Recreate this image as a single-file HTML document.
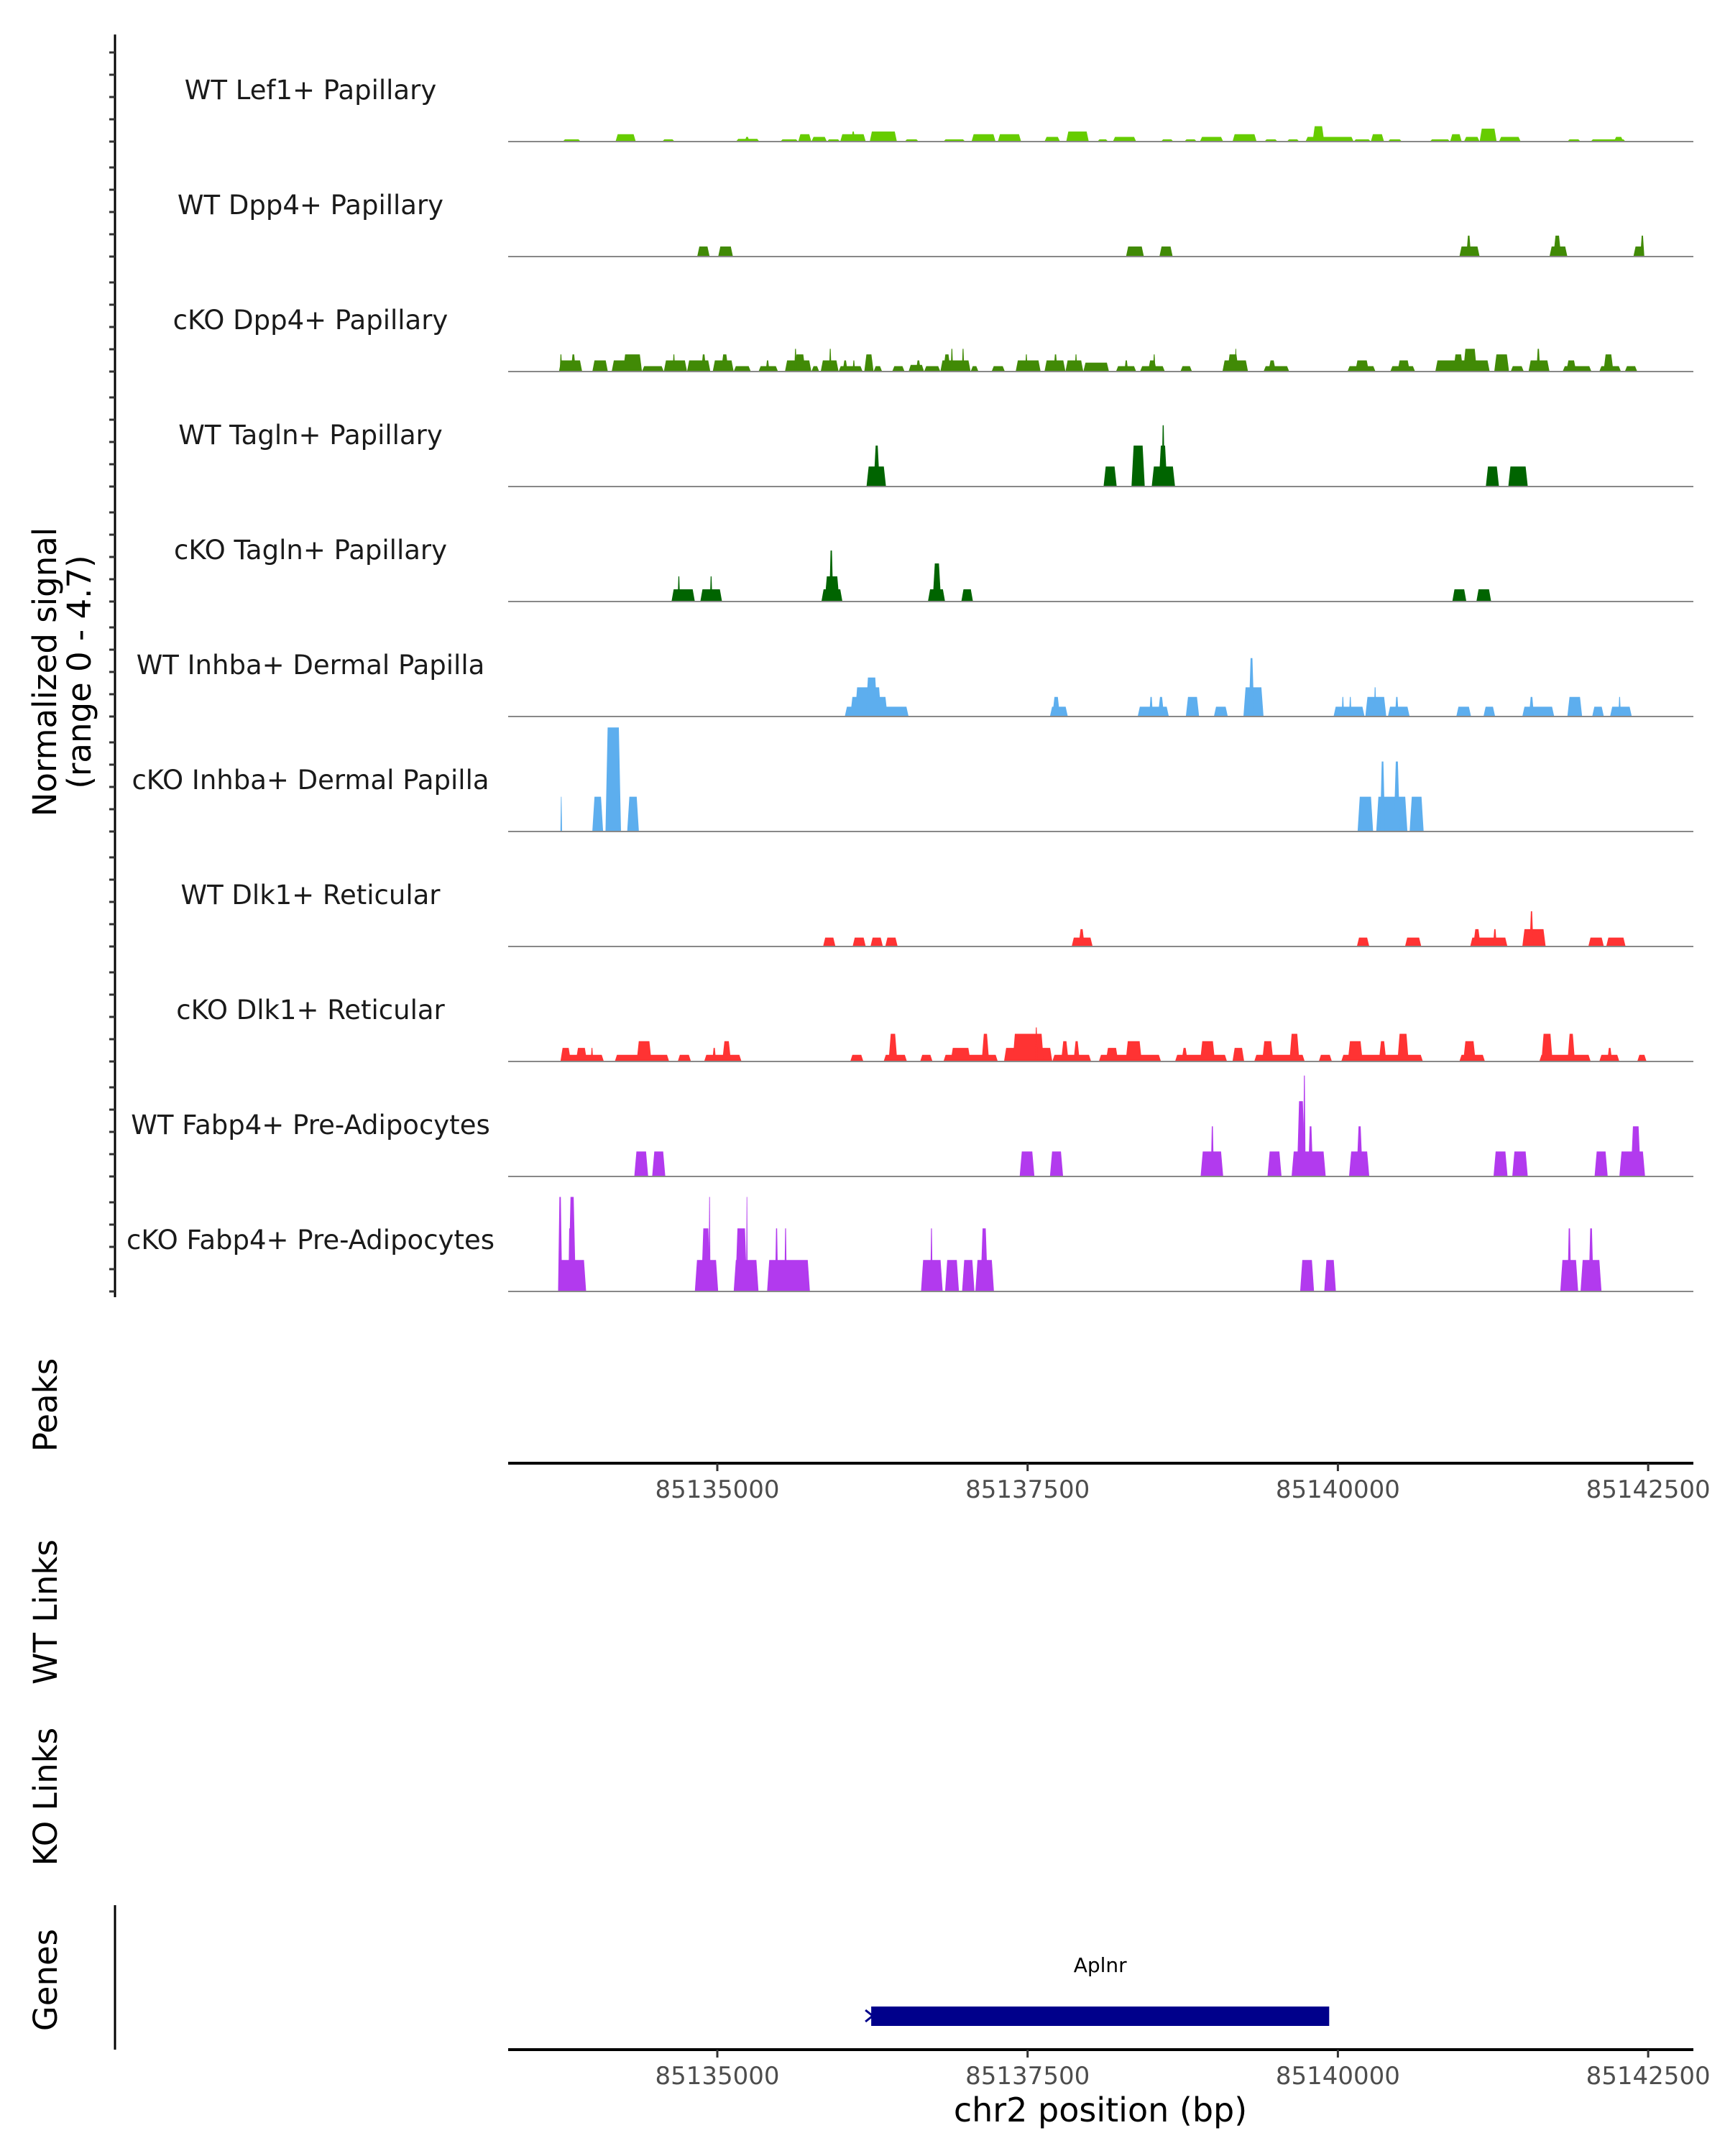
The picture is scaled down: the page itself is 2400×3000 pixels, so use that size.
<!DOCTYPE html>
<html><head><meta charset="utf-8">
<style>
html,body{margin:0;padding:0;background:#fff;}
svg{display:block;font-family:"DejaVu Sans","Liberation Sans",sans-serif;}
</style></head>
<body>
<svg id="chart" width="2400" height="3000" viewBox="0 0 2400 3000" xmlns="http://www.w3.org/2000/svg">
<rect width="2400" height="3000" fill="#fff"/>
<g id="tracks"></g>
<line x1="160" y1="48" x2="160" y2="1805" stroke="#000" stroke-width="3"/>
<g id="yticks"></g>
<text transform="translate(78,935) rotate(-90)" text-anchor="middle" font-size="45" fill="#000">Normalized signal</text>
<text transform="translate(126,935) rotate(-90)" text-anchor="middle" font-size="45" fill="#000">(range 0 - 4.7)</text>
<text transform="translate(79,1955) rotate(-90)" text-anchor="middle" font-size="45">Peaks</text>
<text transform="translate(79,2243) rotate(-90)" text-anchor="middle" font-size="45">WT Links</text>
<text transform="translate(79,2500) rotate(-90)" text-anchor="middle" font-size="45">KO Links</text>
<text transform="translate(79,2755) rotate(-90)" text-anchor="middle" font-size="45">Genes</text>
<line x1="160" y1="2651" x2="160" y2="2852" stroke="#000" stroke-width="3"/>
<g id="xaxes"></g>
<g id="genes"></g>
<text x="1531" y="2952" text-anchor="middle" font-size="46" fill="#000">chr2 position (bp)</text>
</svg>
<script>
const trackNames = ["WT Lef1+ Papillary","WT Dpp4+ Papillary","cKO Dpp4+ Papillary","WT Tagln+ Papillary","cKO Tagln+ Papillary","WT Inhba+ Dermal Papilla","cKO Inhba+ Dermal Papilla","WT Dlk1+ Reticular","cKO Dlk1+ Reticular","WT Fabp4+ Pre-Adipocytes","cKO Fabp4+ Pre-Adipocytes"];
const trackColors = ["#66cc00","#418a06","#418a06","#006400","#006400","#5daeee","#5daeee","#ff3333","#ff3333","#b23aee","#b23aee"];
const xTicks = [85135000,85137500,85140000,85142500];
const xTickLabels = ["85135000","85137500","85140000","85142500"];
const geneName = "Aplnr";
const geneStart = 85136240;
const geneEnd = 85139930;
// segments: [startBp, endBp, signal]
const sigLef1 = [[85133755,85133899,0.1],[85134180,85134343,0.33],[85134556,85134656,0.1],[85135151,85135339,0.12],[85135220,85135260,0.21],[85135508,85135652,0.1],[85135652,85135758,0.33],[85135758,85135883,0.21],[85135883,85135990,0.1],[85135990,85136196,0.33],[85136080,85136110,0.45],[85136228,85136447,0.45],[85136510,85136622,0.1],[85136822,85136997,0.1],[85137048,85137242,0.33],[85137260,85137448,0.33],[85137636,85137761,0.21],[85137811,85137993,0.45],[85138062,85138149,0.1],[85138187,85138375,0.21],[85138575,85138675,0.1],[85138763,85138863,0.1],[85138888,85139076,0.21],[85139151,85139345,0.33],[85139408,85139514,0.1],[85139589,85139689,0.1],[85139739,85140127,0.21],[85139796,85139890,0.69],[85140127,85140265,0.1],[85140265,85140372,0.33],[85140403,85140516,0.1],[85140741,85140904,0.1],[85140904,85140998,0.33],[85141016,85141142,0.21],[85141142,85141279,0.58],[85141298,85141473,0.21],[85141849,85141955,0.1],[85142037,85142318,0.1],[85142224,85142300,0.21]];
const sigDpp4WT = [[85134838,85134938,0.45],[85135007,85135126,0.45],[85138293,85138437,0.45],[85138562,85138669,0.45],[85140979,85141142,0.45],[85141035,85141073,0.94],[85141705,85141849,0.45],[85141736,85141799,0.94],[85142381,85142469,0.45],[85142437,85142469,0.94]];
const sigDpp4KO = [[85133724,85133911,0.5],[85133730,85133750,0.77],[85133820,85133860,0.77],[85133993,85134118,0.5],[85134149,85134393,0.5],[85134240,85134393,0.77],[85134393,85134569,0.24],[85134569,85134756,0.5],[85134640,85134660,0.77],[85134756,85134944,0.5],[85134870,85134910,0.77],[85134963,85135132,0.5],[85135030,85135090,0.77],[85135132,85135270,0.24],[85135332,85135489,0.24],[85135390,85135420,0.5],[85135545,85135758,0.5],[85135620,85135710,0.77],[85135620,85135640,1.02],[85135758,85135821,0.24],[85135833,85135977,0.5],[85135900,85135920,1.02],[85135977,85136171,0.24],[85136010,85136050,0.5],[85136090,85136110,0.5],[85136184,85136259,0.77],[85136259,85136328,0.24],[85136409,85136509,0.24],[85136541,85136666,0.3],[85136600,85136640,0.5],[85136666,85136797,0.24],[85136797,85137041,0.5],[85136820,85136880,0.77],[85136880,85136900,1.02],[85136970,85136990,1.02],[85137041,85137104,0.24],[85137210,85137317,0.24],[85137404,85137605,0.5],[85137480,85137500,0.77],[85137636,85137805,0.5],[85137710,85137740,0.77],[85137805,85137949,0.5],[85137880,85137900,0.77],[85137949,85138156,0.4],[85138212,85138375,0.24],[85138280,85138310,0.5],[85138406,85138606,0.24],[85138470,85138540,0.5],[85138510,85138530,0.77],[85138731,85138825,0.24],[85139070,85139276,0.5],[85139110,85139200,0.77],[85139170,85139185,1.02],[85139401,85139608,0.24],[85139440,85139500,0.5],[85140077,85140303,0.24],[85140140,85140250,0.5],[85140422,85140622,0.24],[85140480,85140580,0.5],[85140785,85141223,0.5],[85140930,85141010,0.77],[85141010,85141120,1.02],[85141260,85141379,0.77],[85141392,85141498,0.24],[85141536,85141705,0.5],[85141600,85141630,1.02],[85141811,85142043,0.24],[85141840,85141920,0.5],[85142106,85142281,0.24],[85142140,85142220,0.77],[85142312,85142412,0.24]];
const sigTaglnWT = [[85136202,85136359,0.9],[85136259,85136309,1.84],[85138112,85138218,0.9],[85138337,85138444,1.84],[85138500,85138688,0.9],[85138556,85138625,1.84],[85138580,85138605,2.75],[85141192,85141298,0.9],[85141373,85141530,0.9]];
const sigTaglnKO = [[85134631,85134819,0.55],[85134680,85134700,1.13],[85134863,85135038,0.55],[85134940,85134960,1.13],[85135839,85136008,0.55],[85135865,85135984,1.13],[85135902,85135934,2.29],[85136697,85136835,0.55],[85136735,85136803,1.71],[85136966,85137060,0.55],[85140922,85141035,0.55],[85141116,85141235,0.55]];
const sigInhbaWT = [[85136027,85136541,0.44],[85136071,85136372,0.88],[85136109,85136321,1.31],[85136196,85136290,1.75],[85137680,85137824,0.44],[85137699,85137761,0.88],[85138387,85138638,0.44],[85138480,85138510,0.88],[85138550,85138600,0.88],[85138775,85138882,0.88],[85139001,85139113,0.44],[85139239,85139401,1.31],[85139282,85139326,2.62],[85139965,85140215,0.44],[85140030,85140050,0.88],[85140090,85140110,0.88],[85140221,85140390,0.88],[85140290,85140310,1.31],[85140403,85140578,0.44],[85140460,85140490,0.88],[85140954,85141073,0.44],[85141173,85141267,0.44],[85141486,85141743,0.44],[85141540,85141580,0.88],[85141849,85141968,0.88],[85142049,85142143,0.44],[85142193,85142368,0.44],[85142260,85142280,0.88]];
const sigInhbaKO = [[85133736,85133749,1.56],[85133993,85134080,1.56],[85134099,85134224,4.67],[85134274,85134368,1.56],[85140159,85140284,1.56],[85140309,85140560,1.56],[85140340,85140380,3.14],[85140450,85140500,3.14],[85140578,85140691,1.56]];
const sigDlk1WT = [[85135852,85135952,0.4],[85136090,85136196,0.4],[85136234,85136334,0.4],[85136353,85136453,0.4],[85137855,85138024,0.4],[85137910,85137960,0.78],[85140153,85140253,0.4],[85140541,85140672,0.4],[85141066,85141366,0.4],[85141090,85141150,0.78],[85141250,85141280,0.78],[85141486,85141674,0.78],[85141545,85141575,1.58],[85142018,85142143,0.4],[85142162,85142318,0.4]];
const sigDlk1KO = [[85133736,85134086,0.3],[85133736,85133820,0.61],[85133860,85133950,0.61],[85133980,85134000,0.61],[85134174,85134612,0.3],[85134350,85134470,0.91],[85134681,85134788,0.3],[85134894,85135195,0.3],[85134960,85134990,0.61],[85135040,85135110,0.91],[85136071,85136177,0.3],[85136340,85136528,0.3],[85136380,85136450,1.24],[85136634,85136734,0.3],[85136822,85137260,0.3],[85136880,85137040,0.61],[85137130,85137190,1.24],[85137310,85137699,0.61],[85137380,85137630,1.24],[85137560,85137580,1.53],[85137699,85138012,0.3],[85137770,85137830,0.91],[85137870,85137920,0.91],[85138074,85138575,0.3],[85138130,85138230,0.61],[85138290,85138420,0.91],[85138688,85139107,0.3],[85138740,85138790,0.61],[85138890,85139010,0.91],[85139151,85139245,0.61],[85139326,85139733,0.3],[85139390,85139480,0.91],[85139610,85139690,1.24],[85139846,85139952,0.3],[85140027,85140685,0.3],[85140080,85140200,0.91],[85140330,85140390,0.91],[85140480,85140570,1.24],[85140979,85141185,0.3],[85141010,85141110,0.91],[85141623,85142037,0.3],[85141640,85141730,1.24],[85141850,85141910,1.24],[85142106,85142268,0.3],[85142170,85142210,0.61],[85142412,85142487,0.3]];
const sigFabp4WT = [[85134331,85134443,1.12],[85134475,85134581,1.12],[85137436,85137555,1.12],[85137680,85137786,1.12],[85138894,85139076,1.12],[85138976,85139001,2.25],[85139433,85139546,1.12],[85139627,85139902,1.12],[85139670,85139735,3.38],[85139720,85139740,4.53],[85139760,85139800,2.25],[85140090,85140253,1.12],[85140150,85140200,2.25],[85141254,85141367,1.12],[85141405,85141530,1.12],[85142068,85142174,1.12],[85142268,85142475,1.12],[85142360,85142440,2.25]];
const sigFabp4KO = [[85133717,85133943,1.41],[85133717,85133750,4.24],[85133800,85133860,4.24],[85133800,85133820,2.83],[85134819,85135007,1.41],[85134870,85134945,2.83],[85134930,85134945,4.24],[85135132,85135332,1.41],[85135145,85135240,2.83],[85135232,85135245,4.24],[85135401,85135746,1.41],[85135465,85135490,2.83],[85135540,85135560,2.83],[85136641,85136816,1.41],[85136716,85136735,2.83],[85136835,85136947,1.41],[85136972,85137072,1.41],[85137079,85137229,1.41],[85137120,85137180,2.83],[85139696,85139808,1.41],[85139890,85139984,1.41],[85141792,85141936,1.41],[85141850,85141880,2.83],[85141955,85142124,1.41],[85142020,85142060,2.83]];
const allSignals = [sigLef1,sigDpp4WT,sigDpp4KO,sigTaglnWT,sigTaglnKO,sigInhbaWT,sigInhbaKO,sigDlk1WT,sigDlk1KO,sigFabp4WT,sigFabp4KO];

const NS='http://www.w3.org/2000/svg';
const X0=707, X1=2356;
function xScale(bp){ return 998 + (bp-85135000)*431.7/2500; }
const unitPx = 31;
function baseY(i){ return 197 + i*160; }
function yScale(i,v){ return baseY(i) - v*unitPx; }
function mk(tag, attrs){ const e=document.createElementNS(NS,tag); for(const k in attrs) e.setAttribute(k,attrs[k]); return e; }

const tracks=document.getElementById('tracks');
allSignals.forEach((segs,i)=>{
  const g=mk('g',{});
  
  
  const lab=mk('text',{x:432,y:baseY(i)-59,'text-anchor':'middle','font-size':37,fill:'#1a1a1a'});
  
  
  lab.textContent=trackNames[i];
  g.appendChild(lab);
  segs.forEach(s=>{
    const xa=xScale(s[0]), xb=xScale(s[1]);
    const r=Math.min(3,(xb-xa)/3);
    const yb=baseY(i), yt=yScale(i,s[2]);
    const p=mk('polygon',{points:`${xa},${yb} ${xa+r},${yt} ${xb-r},${yt} ${xb},${yb}`,fill:trackColors[i]});
    
    
    g.appendChild(p);
  });
  const bl=mk('line',{x1:X0,x2:X1,y1:baseY(i),y2:baseY(i),stroke:'#888',"stroke-width":2});
  
  
  g.appendChild(bl);
  tracks.appendChild(g);
  const yt=document.getElementById('yticks');
  for(let k=0;k<5;k++){
    const t=mk('line',{x1:152,x2:160,y1:baseY(i)-k*unitPx,y2:baseY(i)-k*unitPx,stroke:'#333',"stroke-width":3});
    
    
    yt.appendChild(t);
  }
});

const xa=document.getElementById('xaxes');
[2036,2852].forEach(ay=>{
  const l=mk('line',{x1:X0,x2:X1,y1:ay,y2:ay,stroke:'#000',"stroke-width":4});
  
  
  xa.appendChild(l);
  xTicks.forEach((v,j)=>{
    const t=mk('line',{x1:xScale(v),x2:xScale(v),y1:ay,y2:ay+11,stroke:'#333',"stroke-width":3});
    
    
    xa.appendChild(t);
    const tl=mk('text',{x:xScale(v),y:ay+48,'text-anchor':'middle','font-size':34,fill:'#4d4d4d'});
    
    
    tl.textContent=xTickLabels[j];
    xa.appendChild(tl);
  });
});

const gg=document.getElementById('genes');
const gb=mk('rect',{x:xScale(geneStart),y:2792,width:xScale(geneEnd)-xScale(geneStart),height:27,fill:'#00008b'});


gg.appendChild(gb);
const ga=mk('path',{d:`M${xScale(geneStart)-8},2797 L${xScale(geneStart)+2},2805 L${xScale(geneStart)-8},2813`,stroke:'#00008b','stroke-width':3,fill:'none'});


gg.appendChild(ga);
const gl=mk('text',{x:(xScale(geneStart)+xScale(geneEnd))/2,y:2744,'text-anchor':'middle','font-size':28,fill:'#000'});


gl.textContent=geneName;
gg.appendChild(gl);
</script>
</body></html>
